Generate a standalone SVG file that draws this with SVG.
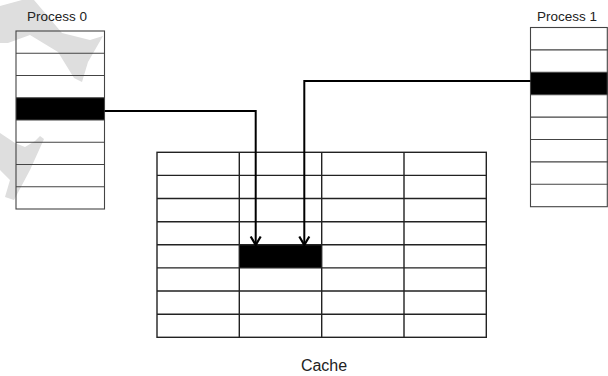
<svg xmlns="http://www.w3.org/2000/svg" width="608" height="376" viewBox="0 0 608 376">
  <style>
    .lbl { font-family: "Liberation Sans", Arial, sans-serif; fill: #222; }
    .pbox { fill: none; stroke: #444; stroke-width: 1.1; }
    .grid { fill: none; stroke: #222; stroke-width: 1.4; }
    .fillblk { fill: #000; stroke: none; }
    .conn { fill: none; stroke: #000; stroke-width: 2; }
    .wm { fill: #dedede; stroke: none; }
  </style>
  <defs>
    <marker id="arr" markerWidth="14" markerHeight="14" refX="12" refY="7" orient="auto" markerUnits="userSpaceOnUse" viewBox="0 0 14 14">
      <path d="M3.5,2 L12,7 L3.5,12" fill="none" stroke="#000" stroke-width="2.2"/>
    </marker>
  </defs>

  <g id="watermark">
    <polygon class="wm" points="0,6 22,0 34,0 62,33 90,40 103,36 88,62 82,82 74,78 58,52 30,35 8,43 0,43"/>
    <polygon class="wm" points="0,133 15,143 25,147 35,141 40,136 44,139 30,170 14,200 5,197 10,180 0,170"/>
  </g>

  <g id="process0">
    <text class="lbl" x="57" y="20.7" font-size="13.5" text-anchor="middle">Process 0</text>
    <rect class="fillblk" x="16" y="97.75" width="88.5" height="22.25"/>
    <rect class="pbox" x="16" y="31" width="88.5" height="178"/>
    <path class="pbox" d="M16,53.25 H104.5 M16,75.5 H104.5 M16,97.75 H104.5 M16,120 H104.5 M16,142.25 H104.5 M16,164.5 H104.5 M16,186.75 H104.5"/>
  </g>

  <g id="process1">
    <text class="lbl" x="567" y="20.7" font-size="13.5" text-anchor="middle">Process 1</text>
    <rect class="fillblk" x="530.5" y="72.3" width="77.5" height="22.4"/>
    <rect class="pbox" x="530.5" y="27.5" width="76.8" height="179.2"/>
    <path class="pbox" d="M530.5,49.9 H608 M530.5,72.3 H608 M530.5,94.7 H608 M530.5,117.1 H608 M530.5,139.5 H608 M530.5,161.9 H608 M530.5,184.3 H608"/>
  </g>

  <g id="cache">
    <rect class="fillblk" x="239.3" y="244.8" width="82.4" height="23.1"/>
    <rect class="grid" x="157" y="152.3" width="329.3" height="185"/>
    <path class="grid" d="M239.3,152.3 V337.3 M321.7,152.3 V337.3 M404,152.3 V337.3
      M157,175.4 H486.3 M157,198.55 H486.3 M157,221.7 H486.3 M157,244.8 H486.3 M157,267.9 H486.3 M157,291.05 H486.3 M157,314.2 H486.3"/>
    <text class="lbl" x="324" y="370.7" font-size="16" text-anchor="middle">Cache</text>
  </g>

  <g id="connectors">
    <path class="conn" d="M104.5,111 H255.7 V245" marker-end="url(#arr)"/>
    <path class="conn" d="M530.5,81 H304.3 V245" marker-end="url(#arr)"/>
  </g>
</svg>
